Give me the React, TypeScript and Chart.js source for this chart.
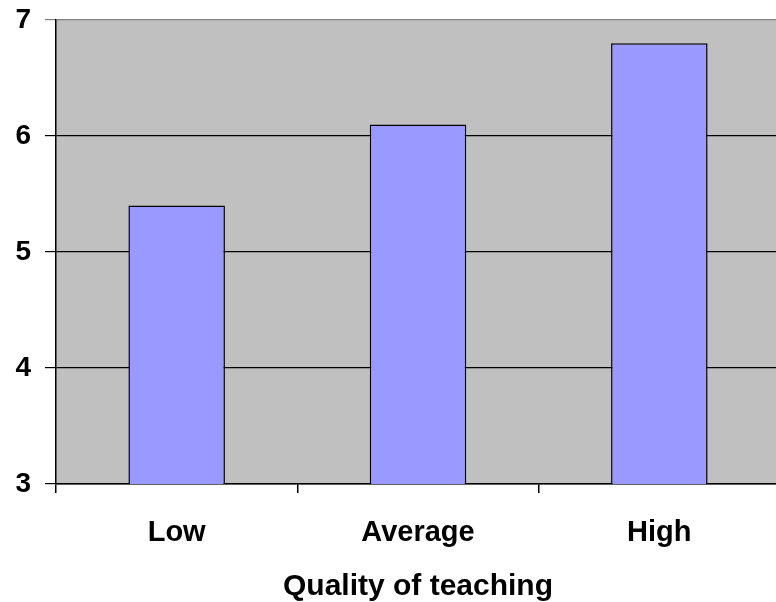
import React, { useEffect, useRef } from "react";
import { Chart, registerables } from "chart.js";

Chart.register(...registerables);

const categories = ["Low", "Average", "High"];
const values = [5.4, 6.1, 6.8];
const yTicks = [3, 4, 5, 6, 7];
const xTitle = "Quality of teaching";

const FONT = "'Liberation Sans', Arial, sans-serif";

const plotBackground = {
  id: "plotBackground",
  beforeDraw(chart: any) {
    const { ctx, chartArea } = chart;
    ctx.save();
    ctx.fillStyle = "#C0C0C0";
    ctx.fillRect(chartArea.left, chartArea.top, chartArea.right - chartArea.left, chartArea.bottom - chartArea.top);
    ctx.restore();
  },
};

export default function App() {
  const ref = useRef<HTMLCanvasElement>(null);

  useEffect(() => {
    if (!ref.current) return;
    const chart = new Chart(ref.current, {
      type: "bar",
      data: {
        labels: categories,
        datasets: [
          {
            data: values,
            backgroundColor: "#9999FF",
            borderColor: "#000000",
            borderWidth: 1.5,
            borderSkipped: false,
            barPercentage: 0.4,
            categoryPercentage: 1,
          },
        ],
      },
      options: {
        responsive: false,
        animation: false,
        layout: { padding: { top: 20, right: 20, left: 0, bottom: 0 } },
        plugins: {
          legend: { display: false },
          tooltip: { enabled: false },
        },
        scales: {
          x: {
            offset: true,
            grid: {
              display: true,
              offset: true,
              drawOnChartArea: false,
              tickLength: 9,
              color: "#000000",
              lineWidth: 1.5,
            },
            border: { display: true, color: "#000000", width: 1.5 },
            ticks: {
              color: "#000000",
              font: { family: FONT, size: 29, weight: "bold" },
              padding: 23,
            },
            title: {
              display: true,
              text: xTitle,
              color: "#000000",
              font: { family: FONT, size: 30, weight: "bold" },
              padding: { top: 13, bottom: -3 },
            },
            afterFit(scale: any) {
              scale.height = 118;
              scale.paddingLeft = 0;
              scale.paddingRight = 0;
            },
          },
          y: {
            min: 3,
            max: 7,
            afterBuildTicks(scale: any) {
              scale.ticks = yTicks.map((v) => ({ value: v }));
            },
            grid: {
              color: (c: any) => (c.tick && c.tick.value === 7 ? "#808080" : "#000000"),
              lineWidth: 1.2,
              tickLength: 11,
              drawTicks: true,
            },
            border: { display: true, color: "#000000", width: 1.5 },
            ticks: {
              color: "#000000",
              font: { family: FONT, size: 28, weight: "bold" },
              padding: 14,
            },
            afterFit(scale: any) {
              scale.width = 56;
              scale.paddingTop = 0;
              scale.paddingBottom = 0;
            },
          },
        },
      },
      plugins: [plotBackground],
    });
    return () => chart.destroy();
  }, []);

  return (
    <div style={{ position: "fixed", left: 0, top: 0, width: 776, height: 602, overflow: "hidden", background: "#fff" }}>
      <canvas ref={ref} width={800} height={602} style={{ display: "block" }} />
    </div>
  );
}
